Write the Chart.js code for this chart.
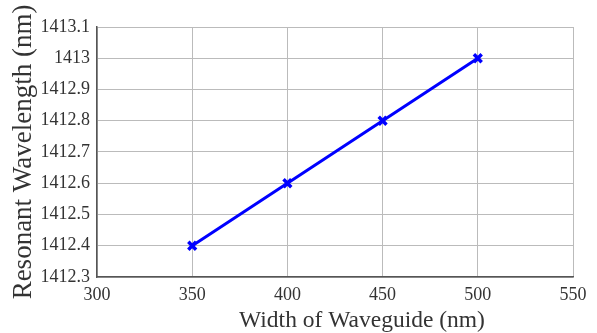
<!DOCTYPE html>
<html><head><meta charset="utf-8">
<script src="https://cdn.jsdelivr.net/npm/chart.js@4/dist/chart.umd.min.js"></script>
<style>html,body{margin:0;padding:0;background:#fff}#w{width:597px;height:333px}</style>
</head><body><div id="w"><canvas id="c" width="597" height="333"></canvas></div>
<script>
const widths = [350, 400, 450, 500];
const wavelengths = [1412.4, 1412.6, 1412.8, 1413.0];
const xTicks = [300, 350, 400, 450, 500, 550];
const yTicks = [1412.3, 1412.4, 1412.5, 1412.6, 1412.7, 1412.8, 1412.9, 1413.0, 1413.1];
const xTitle = 'Width of Waveguide (nm)';
const yTitle = 'Resonant Wavelength (nm)';

const serif = "'Liberation Serif', 'DejaVu Serif', serif";

const xTitlePlugin = {
  id: 'xTitlePlugin',
  afterDraw(chart) {
    const ctx = chart.ctx, a = chart.chartArea;
    ctx.save();
    ctx.font = "23.5px " + serif;
    ctx.fillStyle = '#333';
    ctx.textAlign = 'center';
    ctx.textBaseline = 'alphabetic';
    ctx.fillText(xTitle, (a.left + a.right) / 2 + 27, a.bottom + 50);
    ctx.restore();
  }
};

new Chart(document.getElementById('c'), {
  type: 'scatter',
  data: { datasets: [{
    data: widths.map((x, i) => ({x, y: wavelengths[i]})),
    showLine: true,
    borderColor: '#0000ff',
    backgroundColor: '#0000ff',
    borderWidth: 3,
    pointStyle: 'crossRot',
    pointRadius: 5.5,
    pointBorderWidth: 3.5,
    pointBorderColor: '#0000ff'
  }]},
  plugins: [xTitlePlugin],
  options: {
    responsive: false,
    animation: false,
    layout: { padding: { left: 8, right: 24, top: 27, bottom: 2 } },
    plugins: { legend: { display: false }, tooltip: { enabled: false } },
    scales: {
      x: {
        type: 'linear', min: 300, max: 550,
        afterBuildTicks: s => { s.ticks = xTicks.map(v => ({value: v})); },
        ticks: { color: '#333', font: { family: serif, size: 18 }, padding: 7, maxRotation: 0 },
        grid: { color: '#bbbbbb', lineWidth: 1, drawTicks: false },
        border: { color: '#555', width: 1.5 },
        title: { display: false },
        afterFit: s => { s.height = 54; }
      },
      y: {
        type: 'linear', min: 1412.3, max: 1413.1,
        afterBuildTicks: s => { s.ticks = yTicks.map(v => ({value: v})); },
        ticks: { color: '#333', font: { family: serif, size: 18 }, padding: 7,
          callback: v => String(Math.round(v * 10) / 10) },
        grid: { color: '#bbbbbb', lineWidth: 1, drawTicks: false },
        border: { color: '#555', width: 1.5 },
        title: { display: true, text: yTitle, color: '#333', font: { family: serif, size: 27 }, padding: { top: 0, bottom: 0 } },
        afterFit: s => { s.width = 89; }
      }
    }
  }
});
</script></body></html>
